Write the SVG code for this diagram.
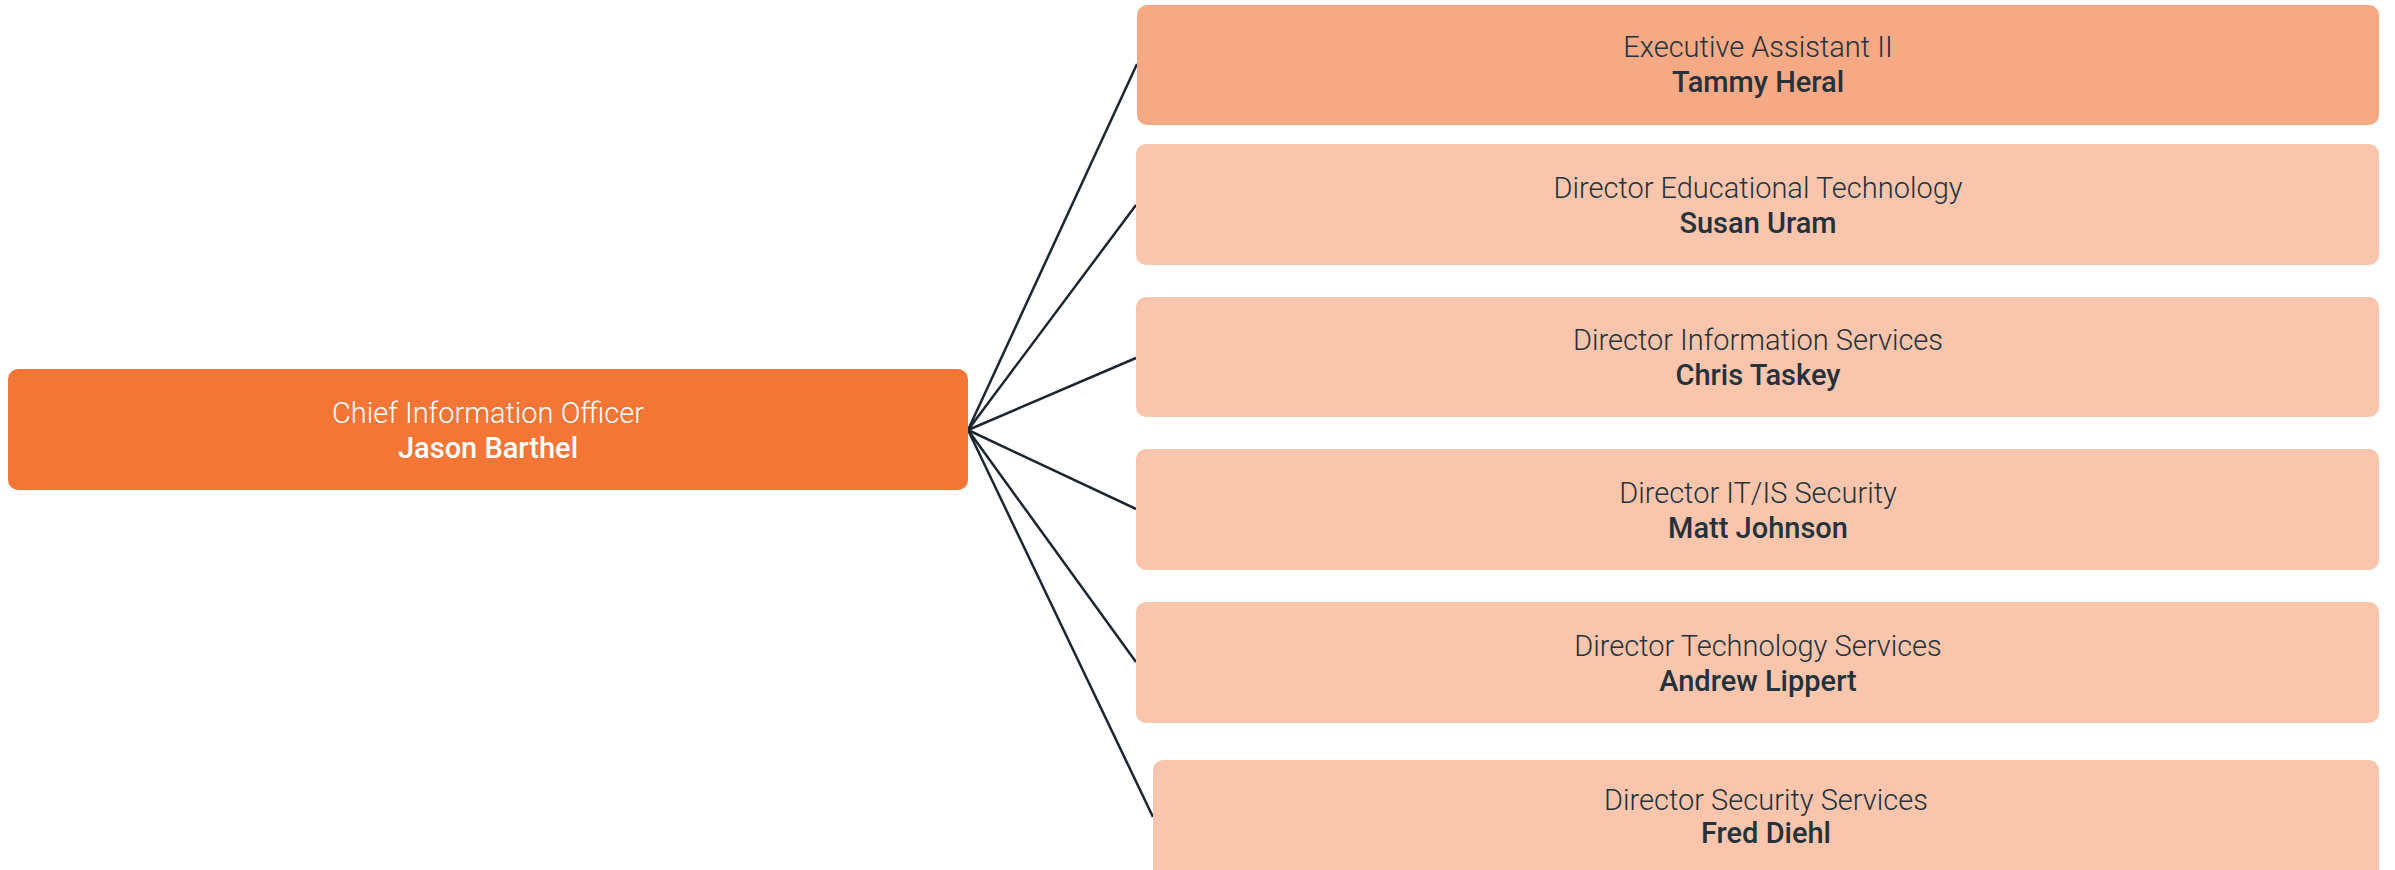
<svg xmlns="http://www.w3.org/2000/svg" width="2395" height="870" viewBox="0 0 2395 870">
<style>
.box{stroke:none}
.cio{fill:#F37636}
.ea{fill:#F6A985}
.dir{fill:#F9C6AD}
.t{font-family:Roboto,"Liberation Sans",sans-serif;font-size:29px;text-anchor:middle}
.title{font-weight:300}
.name{font-weight:500}
.light{fill:#FFFFFF}
.dark{fill:#25313B}
.conn line{stroke:#1B2631;stroke-width:2.5;fill:none}
</style>
<rect width="2395" height="870" fill="#FFFFFF"/>
<g id="connectors" class="conn">
<line x1="968" y1="430" x2="1137" y2="64"/>
<line x1="968" y1="430" x2="1136" y2="205"/>
<line x1="968" y1="430" x2="1136" y2="358"/>
<line x1="968" y1="430" x2="1136" y2="509"/>
<line x1="968" y1="430" x2="1136" y2="662"/>
<line x1="968" y1="430" x2="1153" y2="817"/>
</g>
<g id="cio">
<rect class="box cio" x="8" y="369" width="960" height="121" rx="10"/>
<text class="t title light" x="488" y="423">Chief Information Officer</text>
<text class="t name light" x="488" y="458">Jason Barthel</text>
</g>
<g id="exec-assistant">
<rect class="box ea" x="1137" y="5" width="1242" height="120" rx="10"/>
<text class="t title dark" x="1758" y="57">Executive Assistant II</text>
<text class="t name dark" x="1758" y="92">Tammy Heral</text>
</g>
<g id="dir-edtech">
<rect class="box dir" x="1136" y="144" width="1243" height="121" rx="10"/>
<text class="t title dark" x="1758" y="198">Director Educational Technology</text>
<text class="t name dark" x="1758" y="233">Susan Uram</text>
</g>
<g id="dir-infoservices">
<rect class="box dir" x="1136" y="297" width="1243" height="120" rx="10"/>
<text class="t title dark" x="1758" y="350">Director Information Services</text>
<text class="t name dark" x="1758" y="385">Chris Taskey</text>
</g>
<g id="dir-security-itis">
<rect class="box dir" x="1136" y="449" width="1243" height="121" rx="10"/>
<text class="t title dark" x="1758" y="503">Director IT/IS Security</text>
<text class="t name dark" x="1758" y="538">Matt Johnson</text>
</g>
<g id="dir-techservices">
<rect class="box dir" x="1136" y="602" width="1243" height="121" rx="10"/>
<text class="t title dark" x="1758" y="656">Director Technology Services</text>
<text class="t name dark" x="1758" y="691">Andrew Lippert</text>
</g>
<g id="dir-securityservices">
<rect class="box dir" x="1153" y="760" width="1226" height="121" rx="10"/>
<text class="t title dark" x="1766" y="810">Director Security Services</text>
<text class="t name dark" x="1766" y="843">Fred Diehl</text>
</g>
</svg>
